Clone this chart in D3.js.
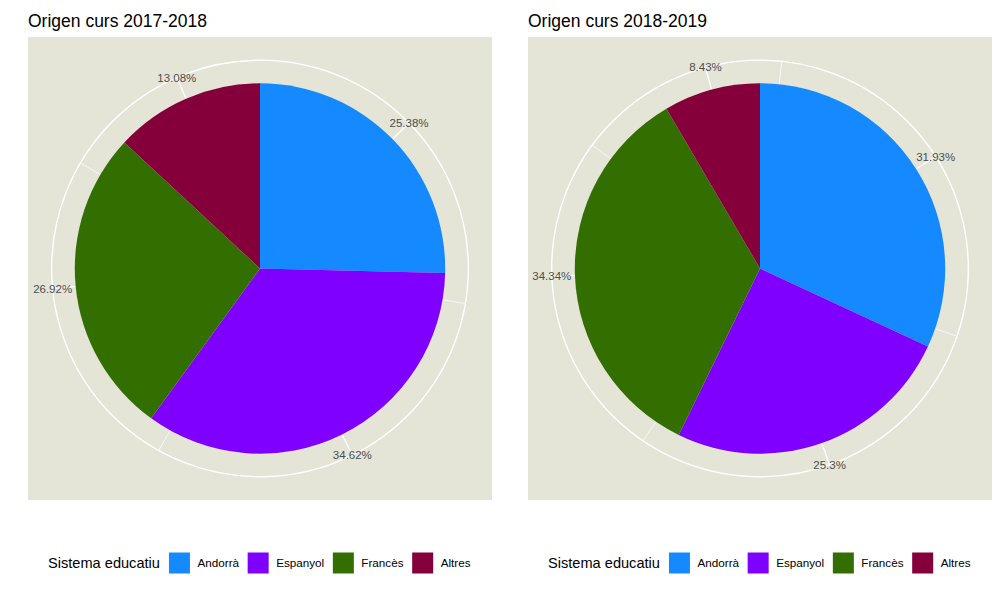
<!DOCTYPE html>
<html>
<head>
<meta charset="utf-8" />
<title>Origen curs</title>
<script src="https://d3js.org/d3.v7.min.js"></script>
<style>
  body { margin: 0; background: #fff; }
  svg { font-family: "Liberation Sans", Arial, Helvetica, sans-serif; }
</style>
</head>
<body>
<div id="chart"></div>
<script>
// categories and colours (legend order = clockwise order)
var categories = ["Andorrà", "Espanyol", "Francès", "Altres"];
var colours = ["#1589ff", "#7f00ff", "#336e00", "#85003b"];

// percentages per course
var values2017 = [25.38, 34.62, 26.92, 13.08];
var values2018 = [31.93, 25.3, 34.34, 8.43];
var titles = ["Origen curs 2017-2018", "Origen curs 2018-2019"];
var legendTitle = "Sistema educatiu";

var W = 1000, H = 595;
var svg = d3.select("#chart").append("svg")
    .attr("width", W)
    .attr("height", H);

var panel = { left: 28, top: 37, width: 464, height: 463 };

// ggplot-style minor breaks (midpoints between majors, extended towards limits)
function minorBreaks(b, lim) {
    var bd = b[1] - b[0];
    var ext = b.slice();
    if (lim[0] < ext[0]) ext.unshift(ext[0] - bd);
    if (lim[1] > ext[ext.length - 1]) ext.push(ext[ext.length - 1] + bd);
    var out = [];
    for (var i = 0; i < ext.length - 1; i++) out.push((ext[i] + ext[i + 1]) / 2);
    return out.filter(function(d) { return d >= lim[0] && d <= lim[1]; });
}

function drawPie(values, title, offset) {
    var g = svg.append("g").attr("transform", "translate(" + offset + ",0)");

    var total = d3.sum(values);
    var theta = d3.scaleLinear().domain([0, total]).range([0, 2 * Math.PI]);
    var size = Math.min(panel.width, panel.height);
    var rPie = 0.4 * size, rOut = 0.45 * size;
    var cx = panel.left + panel.width / 2, cy = panel.top + panel.height / 2;

    g.append("text")
        .attr("x", panel.left)
        .attr("y", 27)
        .attr("font-size", "17.5px")
        .attr("fill", "#000")
        .text(title);

    g.append("rect")
        .attr("x", panel.left)
        .attr("y", panel.top)
        .attr("width", panel.width)
        .attr("height", panel.height)
        .attr("fill", "#e4e5d7");

    var c = g.append("g").attr("transform", "translate(" + cx + "," + cy + ")");

    // label positions = midpoints of cumulative sums
    var cum = d3.cumsum(values);
    var majors = values.map(function(v, i) { return cum[i] - v / 2; });
    var minors = minorBreaks(majors, [0, total]);

    function px(a, r) { return r * Math.sin(a); }
    function py(a, r) { return -r * Math.cos(a); }

    c.selectAll(".minor").data(minors).enter().append("line")
        .attr("class", "minor")
        .attr("x1", 0).attr("y1", 0)
        .attr("x2", function(d) { return px(theta(d), rOut); })
        .attr("y2", function(d) { return py(theta(d), rOut); })
        .attr("stroke", "#fff")
        .attr("stroke-width", 0.7);

    c.selectAll(".major").data(majors).enter().append("line")
        .attr("class", "major")
        .attr("x1", 0).attr("y1", 0)
        .attr("x2", function(d) { return px(theta(d), rOut); })
        .attr("y2", function(d) { return py(theta(d), rOut); })
        .attr("stroke", "#fff")
        .attr("stroke-width", 1.4);

    c.append("circle")
        .attr("r", rOut)
        .attr("fill", "none")
        .attr("stroke", "#fff")
        .attr("stroke-width", 1.4);

    var pie = d3.pie().sort(null)
        .startAngle(theta(0)).endAngle(theta(total));
    var arc = d3.arc().innerRadius(0).outerRadius(rPie);

    c.selectAll(".slice").data(pie(values)).enter().append("path")
        .attr("class", "slice")
        .attr("d", arc)
        .attr("fill", function(d, i) { return colours[i]; });

    c.selectAll(".valLabel").data(majors).enter().append("text")
        .attr("class", "valLabel")
        .attr("x", function(d) { return px(theta(d), rOut); })
        .attr("y", function(d) { return py(theta(d), rOut); })
        .attr("dy", "0.35em")
        .attr("text-anchor", "middle")
        .attr("font-size", "11.5px")
        .attr("fill", "#4d4d4d")
        .text(function(d, i) { return values[i] + "%"; });

    // legend
    var lg = g.append("g");
    var ly = 563;
    var lt = lg.append("text")
        .attr("x", 48)
        .attr("y", ly)
        .attr("dy", "0.35em")
        .attr("font-size", "14.6px")
        .attr("fill", "#000")
        .text(legendTitle);
    var xpos = 48 + lt.node().getComputedTextLength() + 9;
    categories.forEach(function(cat, i) {
        lg.append("rect")
            .attr("x", xpos)
            .attr("y", ly - 10.5)
            .attr("width", 21)
            .attr("height", 21)
            .attr("fill", colours[i]);
        var t = lg.append("text")
            .attr("x", xpos + 28.5)
            .attr("y", ly)
            .attr("dy", "0.35em")
            .attr("font-size", "11.7px")
            .attr("fill", "#000")
            .text(cat);
        xpos += 28.5 + t.node().getComputedTextLength() + 8.6;
    });
}

drawPie(values2017, titles[0], 0);
drawPie(values2018, titles[1], 500);
</script>
</body>
</html>
